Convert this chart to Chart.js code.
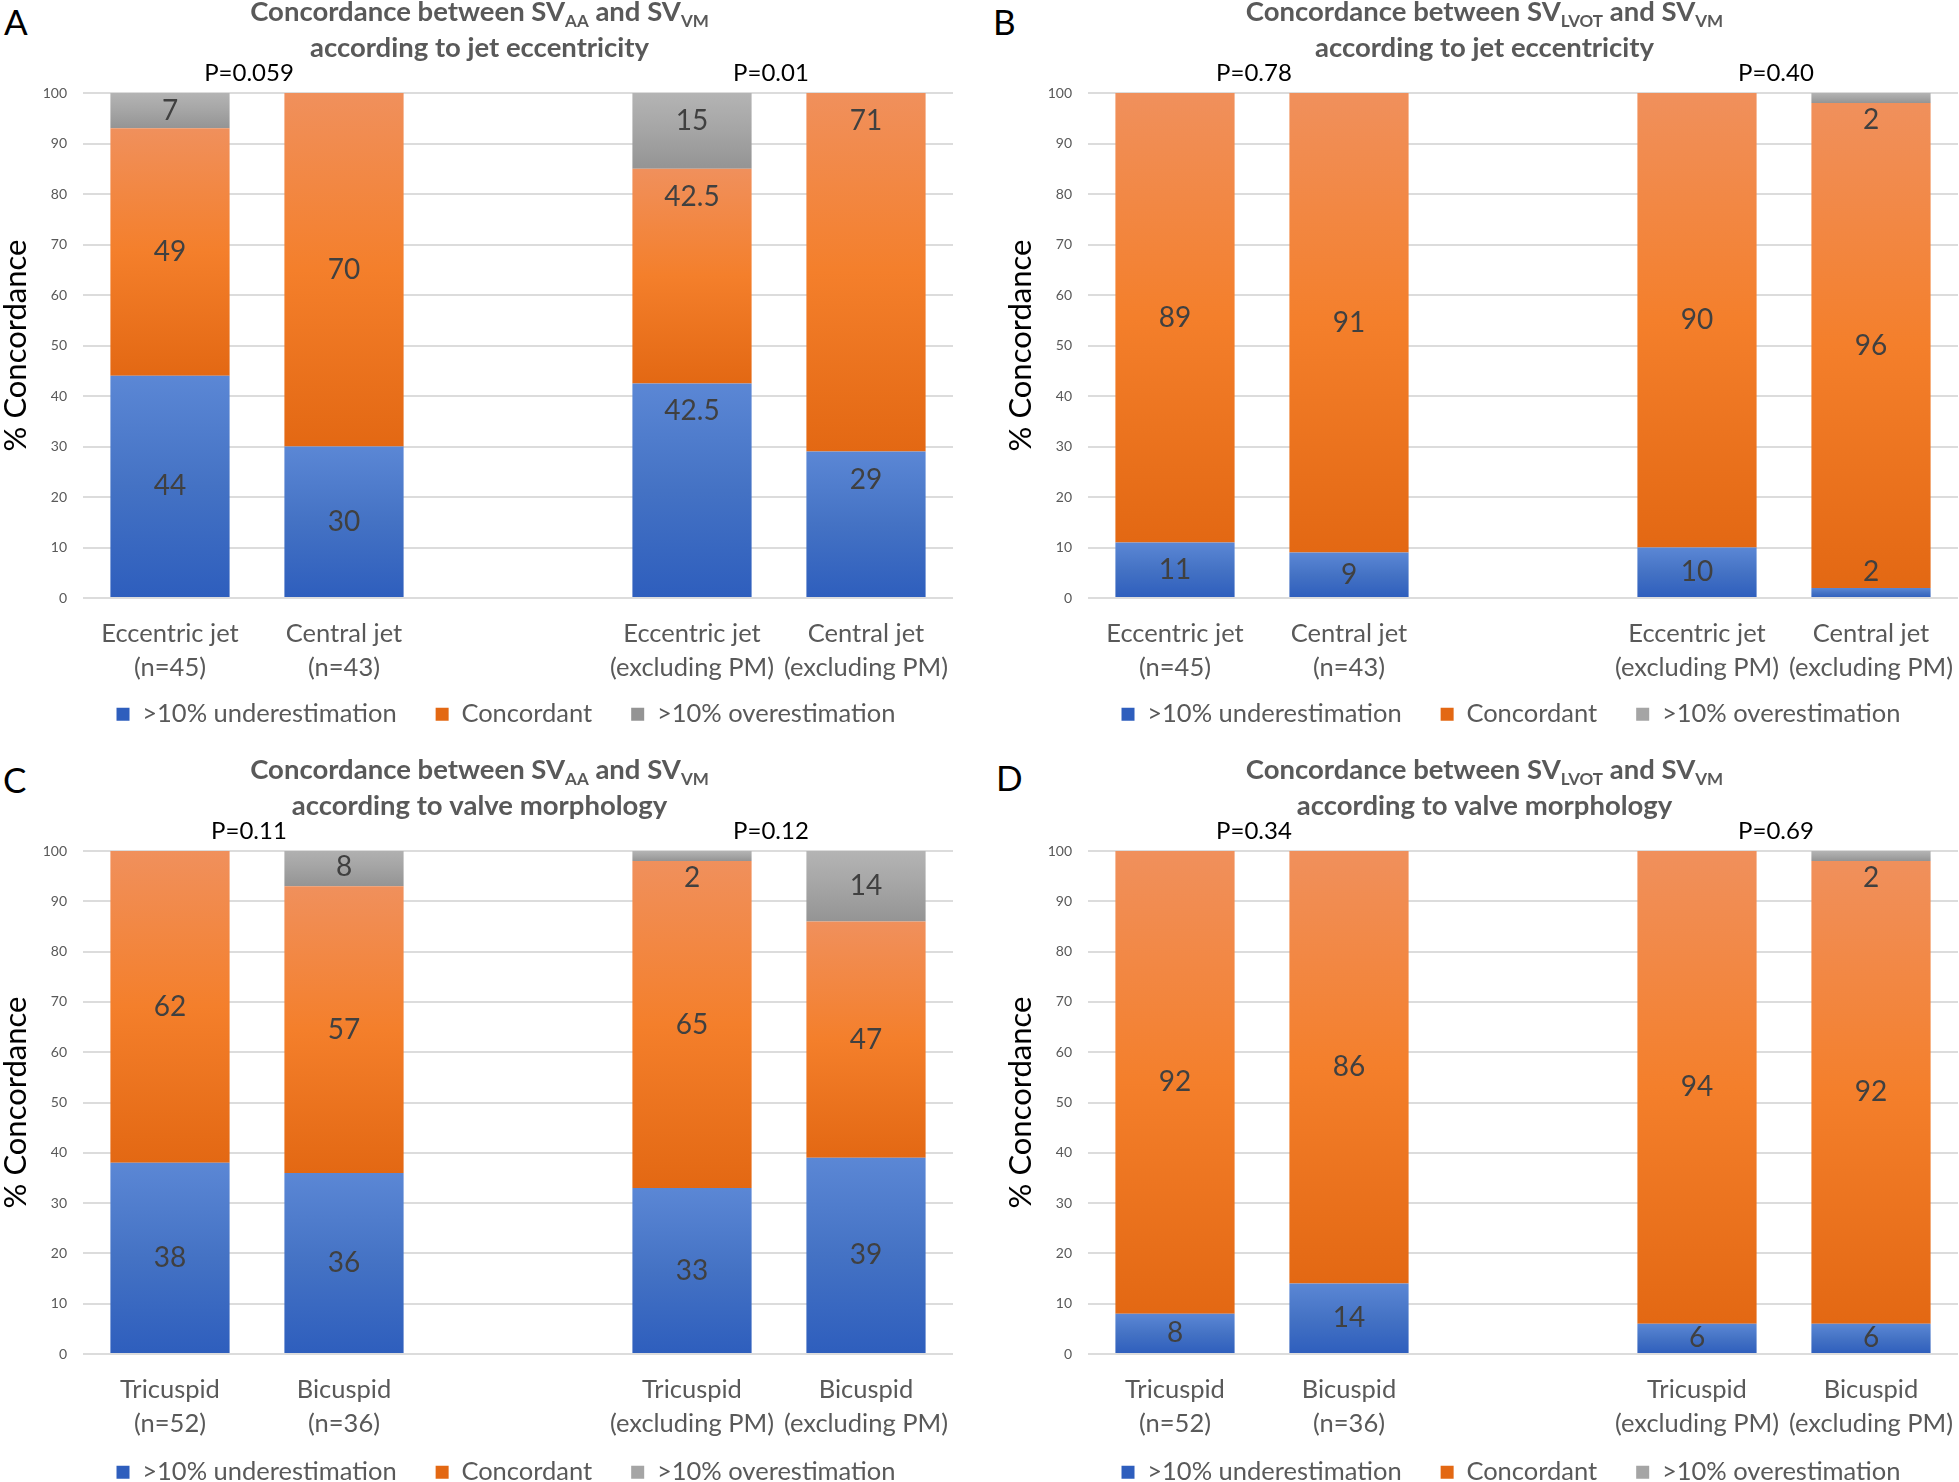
<!DOCTYPE html>
<html>
<head>
<meta charset="utf-8">
<title>Concordance between SV methods</title>
<script src="https://cdn.jsdelivr.net/npm/chart.js@4.4.1/dist/chart.umd.min.js"></script>
<style>
  html, body { margin: 0; padding: 0; background: #fff; overflow: hidden; }
  body { width: 1959px; height: 1482px; position: relative; }
  canvas { position: absolute; }
  .letter { position: absolute; font: 35px Lato, sans-serif; line-height: 1; color: #000; }
</style>
</head>
<body>
<div class="letter" style="left:4px;top:4px">A</div>
<div class="letter" style="left:993px;top:4px">B</div>
<div class="letter" style="left:3px;top:762px">C</div>
<div class="letter" style="left:996px;top:760px">D</div>
<canvas id="chartA" width="954" height="770" style="left:0;top:0"></canvas>
<canvas id="chartB" width="954" height="770" style="left:1005px;top:0"></canvas>
<canvas id="chartC" width="954" height="770" style="left:0;top:758px"></canvas>
<canvas id="chartD" width="954" height="770" style="left:1005px;top:758px"></canvas>
<script>
// series names (legend)
const seriesNames = ['>10% underestimation', 'Concordant', '>10% overestimation'];

// categories (the empty one is the gap between the two groups)
const jetCategories = [['Eccentric jet', '(n=45)'], ['Central jet', '(n=43)'], '',
                       ['Eccentric jet', '(excluding PM)'], ['Central jet', '(excluding PM)']];
const valveCategories = [['Tricuspid', '(n=52)'], ['Bicuspid', '(n=36)'], '',
                         ['Tricuspid', '(excluding PM)'], ['Bicuspid', '(excluding PM)']];

// A: SV_AA vs SV_VM, jet eccentricity
const underA = [44, 30, null, 42.5, 29];
const concA  = [49, 70, null, 42.5, 71];
const overA  = [7, 0, null, 15, 0];
const pA = ['P=0.059', 'P=0.01'];

// B: SV_LVOT vs SV_VM, jet eccentricity
const underB = [11, 9, null, 10, 2];
const concB  = [89, 91, null, 90, 96];
const overB  = [0, 0, null, 0, 2];
const pB = ['P=0.78', 'P=0.40'];

// C: SV_AA vs SV_VM, valve morphology
const underC = [38, 36, null, 33, 39];
const concC  = [62, 57, null, 65, 47];
const overC  = [0, 8, null, 2, 14];
const pC = ['P=0.11', 'P=0.12'];

// D: SV_LVOT vs SV_VM, valve morphology
const underD = [8, 14, null, 6, 6];
const concD  = [92, 86, null, 94, 92];
const overD  = [0, 0, null, 0, 2];
const pD = ['P=0.34', 'P=0.69'];

const FONT = 'Lato, sans-serif';

const palette = [
  { solid: '#4472c4', stops: ['#5b87d5', '#4472c4', '#2e5ebd'] },
  { solid: '#ed7d31', stops: ['#f0905c', '#f47f2b', '#e36813'] },
  { solid: '#a5a5a5', stops: ['#b4b4b4', '#a5a5a5', '#949494'] }
];

// each stacked segment gets its own top-to-bottom gradient
function segmentFill(idx) {
  return ctx => {
    const p = palette[idx];
    if (ctx.type !== 'data') return p.solid;
    const chart = ctx.chart;
    const y = chart.scales.y;
    if (!chart.chartArea || !y) return p.solid;
    const i = ctx.dataIndex;
    let lo = 0;
    for (let d = 0; d < ctx.datasetIndex; d++) lo += chart.data.datasets[d].data[i] || 0;
    const hi = lo + (chart.data.datasets[ctx.datasetIndex].data[i] || 0);
    const top = y.getPixelForValue(hi), bot = y.getPixelForValue(lo);
    if (!isFinite(top) || !isFinite(bot) || top === bot) return p.solid;
    const g = chart.ctx.createLinearGradient(0, top, 0, bot);
    g.addColorStop(0, p.stops[0]);
    g.addColorStop(0.5, p.stops[1]);
    g.addColorStop(1, p.stops[2]);
    return g;
  };
}

// two-line title with subscripts written as _{..}
const panelTitle = {
  id: 'panelTitle',
  afterDraw(chart, args, opts) {
    const ctx = chart.ctx;
    const cx = chart.chartArea.right / 2 + 3;
    const size = 27.5;
    ctx.save();
    ctx.fillStyle = '#595959';
    ctx.textBaseline = 'alphabetic';
    ctx.textAlign = 'left';
    opts.lines.forEach((line, n) => {
      const parts = line.split(/_\{([^}]*)\}/);
      const fontOf = k => k % 2 ? `bold ${Math.round(size * 0.62)}px ${FONT}` : `bold ${size}px ${FONT}`;
      let w = 0;
      parts.forEach((t, k) => { ctx.font = fontOf(k); w += ctx.measureText(t).width; });
      let x = cx - w / 2;
      const base = opts.baselines[n];
      parts.forEach((t, k) => {
        ctx.font = fontOf(k);
        ctx.fillText(t, x, base + (k % 2 ? 6 : 0));
        x += ctx.measureText(t).width;
      });
    });
    ctx.restore();
  }
};

// P values above each pair of bars
const pValues = {
  id: 'pValues',
  afterDraw(chart, args, opts) {
    const ctx = chart.ctx;
    const x = chart.scales.x;
    ctx.save();
    ctx.font = `24px ${FONT}`;
    ctx.fillStyle = '#000';
    ctx.textAlign = 'center';
    ctx.textBaseline = 'alphabetic';
    const pairs = [[0, 1], [3, 4]];
    pairs.forEach((pr, k) => {
      const mid = (x.getPixelForValue(pr[0]) + x.getPixelForValue(pr[1])) / 2 - 8;
      ctx.fillText(opts.texts[k], mid, 81);
    });
    ctx.restore();
  }
};

// value labels inside the segments
const segmentLabels = {
  id: 'segmentLabels',
  afterDatasetsDraw(chart, args, opts) {
    const {ctx, chartArea} = chart;
    const sets = chart.data.datasets;
    ctx.save();
    ctx.font = `28px ${FONT}`;
    ctx.fillStyle = '#404040';
    ctx.textAlign = 'center';
    ctx.textBaseline = 'middle';
    sets.forEach((ds, d) => {
      const meta = chart.getDatasetMeta(d);
      meta.data.forEach((bar, i) => {
        const v = ds.data[i];
        if (!v) return;
        const top = bar.y, base = bar.base;
        let ty;
        if (opts.modes[i] === 'end') {
          ty = Math.max(top, chartArea.top) + 28;
        } else if (base - top < 20) {
          const isTop = sets.slice(d + 1).every(s => !s.data[i]);
          ty = isTop ? top + 27 : base - 25;
        } else {
          ty = Math.max((top + base) / 2, chartArea.top + 16);
        }
        ctx.fillText(String(v), bar.x, ty);
      });
    });
    ctx.restore();
  }
};

// legend sits a bit right of the canvas centre, just under the labels
const legendPlace = {
  id: 'legendPlace',
  afterLayout(chart) {
    const lg = chart.legend;
    if (!lg) return;
    lg.left += 59;
    const dy = 662.5 - lg.top;
    lg.top += dy;
    lg.bottom += dy;
  }
};

function makePanel(id, categories, under, conc, over, pTexts, titleLines, modes, padBottom) {
  return new Chart(document.getElementById(id), {
    type: 'bar',
    data: {
      labels: categories,
      datasets: [
        { label: seriesNames[0], data: under, backgroundColor: segmentFill(0) },
        { label: seriesNames[1], data: conc, backgroundColor: segmentFill(1) },
        { label: seriesNames[2], data: over, backgroundColor: segmentFill(2) }
      ]
    },
    options: {
      responsive: false,
      animation: false,
      devicePixelRatio: 1,
      layout: { padding: { top: 93, right: 1, bottom: padBottom, left: 0 } },
      datasets: { bar: { barPercentage: 0.685, categoryPercentage: 1, borderWidth: 0 } },
      scales: {
        x: {
          stacked: true,
          grid: { display: false, drawTicks: false },
          border: { display: false },
          ticks: {
            color: '#595959',
            font: { family: FONT, size: 25.5, lineHeight: 1.32 },
            padding: 19,
            maxRotation: 0,
            autoSkip: false
          },
          afterFit: s => { s.height = 92; s.paddingLeft = 0; s.paddingRight = 0; }
        },
        y: {
          stacked: true,
          min: 0,
          max: 100,
          ticks: { stepSize: 10, color: '#595959', font: { family: FONT, size: 14 }, padding: 16 },
          grid: { color: '#dcdcdc', lineWidth: 2, drawTicks: false },
          border: { display: false },
          title: {
            display: true,
            text: '% Concordance',
            color: '#000',
            font: { family: FONT, size: 31, lineHeight: 1 },
            padding: { top: 0, bottom: 0 }
          },
          afterFit: s => { s.width = 83; s.paddingTop = 0; s.paddingBottom = 0; }
        }
      },
      plugins: {
        legend: {
          position: 'bottom',
          labels: {
            color: '#595959',
            font: { family: FONT, size: 25.5 },
            boxWidth: 13,
            boxHeight: 13,
            padding: 39
          }
        },
        tooltip: { enabled: false },
        panelTitle: { lines: titleLines, baselines: [21, 57] },
        pValues: { texts: pTexts },
        segmentLabels: { modes: modes }
      }
    },
    plugins: [panelTitle, pValues, segmentLabels, legendPlace]
  });
}

makePanel('chartA', jetCategories, underA, concA, overA, pA,
  ['Concordance between SV_{AA} and SV_{VM}', 'according to jet eccentricity'],
  ['center', 'center', null, 'end', 'end'], 5.5);
makePanel('chartB', jetCategories, underB, concB, overB, pB,
  ['Concordance between SV_{LVOT} and SV_{VM}', 'according to jet eccentricity'],
  ['center', 'center', null, 'center', 'center'], 5.5);
makePanel('chartC', valveCategories, underC, concC, overC, pC,
  ['Concordance between SV_{AA} and SV_{VM}', 'according to valve morphology'],
  ['center', 'center', null, 'center', 'center'], 7.5);
makePanel('chartD', valveCategories, underD, concD, overD, pD,
  ['Concordance between SV_{LVOT} and SV_{VM}', 'according to valve morphology'],
  ['center', 'center', null, 'center', 'center'], 7.5);
</script>
</body>
</html>
